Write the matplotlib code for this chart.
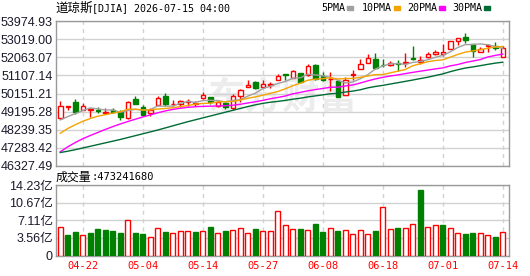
import numpy as np
import matplotlib.pyplot as plt
from matplotlib.patches import Rectangle

plt.rcParams['font.family'] = ['Liberation Sans', 'Noto Sans CJK SC', 'DejaVu Sans']

# ---------------------------------------------------------------- data
dates = ['04-17', '04-20', '04-21', '04-22', '04-23', '04-24', '04-27', '04-28', '04-29', '04-30',
         '05-01', '05-04', '05-05', '05-06', '05-07', '05-08', '05-11', '05-12', '05-13', '05-14',
         '05-15', '05-18', '05-19', '05-20', '05-21', '05-22', '05-26', '05-27', '05-28', '05-29',
         '06-01', '06-02', '06-03', '06-04', '06-05', '06-08', '06-09', '06-10', '06-11', '06-12',
         '06-15', '06-16', '06-17', '06-18', '06-22', '06-23', '06-24', '06-25', '06-26', '06-29',
         '06-30', '07-01', '07-02', '07-06', '07-07', '07-08', '07-09', '07-10', '07-13', '07-14']

opens = [48841, 49460, 49687, 49296, 49296, 49280, 49137, 49264, 49158, 48841,
         49862, 49439, 49106, 49529, 50036, 49581, 49581, 49719, 49597, 49899,
         49968, 49508, 49666, 49402, 50036, 50480, 50745, 50496, 50586, 50850,
         51168, 50956, 51236, 51104, 51675, 51051, 50909, 50787, 50057, 51131,
         51432, 51786, 51961, 51675, 51675, 51765, 51749, 52003, 51834, 52066,
         52214, 52257, 52490, 52902, 53124, 52770, 52347, 52652, 52664, 52098]
highs = [49756, 49497, 49862, 49650, 49386, 49439, 49370, 49370, 49280, 49756,
         50036, 49545, 49370, 50036, 50179, 49809, 49809, 49862, 49756, 50216,
         49978, 49756, 49677, 50110, 50390, 50850, 50813, 50850, 50776, 51199,
         51199, 51395, 51252, 51702, 51696, 51289, 51273, 50866, 51009, 51416,
         51961, 52236, 52267, 51961, 51887, 51924, 52278, 52664, 52146, 52320,
         52426, 52770, 52940, 53071, 53335, 52780, 52600, 52770, 52860, 52680]
lows = [48815, 49296, 49068, 49280, 48926, 49121, 49106, 49137, 48767, 48825,
        49581, 48979, 48979, 49518, 49508, 49492, 49455, 49508, 49508, 49862,
        49581, 49423, 49333, 49280, 49687, 50470, 50390, 50427, 50459, 50840,
        50866, 50946, 50723, 51093, 50866, 50797, 50269, 49967, 50047, 50877,
        51421, 51775, 51432, 51569, 51606, 51358, 51569, 51897, 51723, 52040,
        52162, 52136, 52479, 52690, 52822, 52093, 52336, 52331, 52436, 52093]
closes = [49492, 49476, 49190, 49476, 49317, 49227, 49190, 49174, 48926, 49687,
          49581, 49000, 49296, 49899, 49613, 49618, 49756, 49767, 49666, 50073,
          49687, 49698, 49423, 50020, 50322, 50602, 50459, 50639, 50644, 51078,
          51104, 51326, 50760, 51590, 50903, 50850, 50940, 49983, 50866, 51168,
          51696, 52014, 51485, 51649, 51781, 51723, 51834, 51976, 51913, 52241,
          52357, 52336, 52928, 53060, 53007, 52373, 52505, 52700, 52568, 52579]

# volume in units of 1e8 shares (亿)
volumes = [5.70, 4.13, 4.74, 4.06, 4.53, 5.27, 5.15, 4.95, 4.53, 7.15,
           4.53, 4.33, 3.84, 5.50, 4.74, 4.46, 4.88, 4.88, 4.74, 4.88,
           5.77, 4.46, 4.95, 5.08, 5.50, 4.46, 5.27, 4.88, 4.88, 9.00,
           6.12, 5.29, 5.29, 5.08, 6.39, 4.74, 5.50, 4.95, 5.08, 4.26,
           5.08, 4.26, 4.95, 9.83, 5.29, 5.50, 5.50, 6.32, 13.20, 5.70,
           6.12, 6.12, 5.50, 4.46, 4.33, 4.53, 4.46, 4.06, 3.84, 4.73]

ma5 = [48752, 48930, 49090, 49250, 49390, 49337, 49280, 49277, 49167, 49241,
       49312, 49274, 49298, 49493, 49478, 49485, 49636, 49731, 49684, 49776,
       49790, 49778, 49709, 49780, 49830, 50013, 50165, 50408, 50533, 50684,
       50785, 50958, 50982, 51172, 51137, 51086, 51009, 50853, 50708, 50761,
       50931, 51145, 51446, 51602, 51725, 51730, 51694, 51793, 51845, 51937,
       52064, 52165, 52355, 52584, 52738, 52741, 52775, 52729, 52631, 52545]
ma10 = [48050, 48300, 48500, 48680, 48830, 48950, 49030, 49110, 49190, 49316,
        49324, 49277, 49287, 49330, 49359, 49398, 49455, 49514, 49588, 49627,
        49638, 49707, 49720, 49732, 49803, 49901, 49972, 50059, 50157, 50257,
        50399, 50562, 50695, 50852, 50911, 50935, 50983, 50918, 50940, 50949,
        51008, 51077, 51150, 51155, 51243, 51331, 51420, 51619, 51724, 51831,
        51897, 51930, 52074, 52215, 52338, 52403, 52470, 52542, 52608, 52641]
ma20 = [47070, 47330, 47560, 47760, 47930, 48090, 48250, 48400, 48540, 48670,
        48790, 48910, 49020, 49130, 49230, 49310, 49370, 49420, 49450, 49471,
        49481, 49492, 49504, 49531, 49581, 49650, 49713, 49787, 49873, 49942,
        50018, 50135, 50208, 50292, 50357, 50418, 50478, 50488, 50548, 50603,
        50704, 50819, 50922, 51004, 51077, 51133, 51202, 51269, 51332, 51390,
        51453, 51503, 51612, 51685, 51790, 51867, 51945, 52081, 52166, 52236]
ma30 = [47030, 47100, 47180, 47270, 47360, 47450, 47540, 47630, 47720, 47820,
        47920, 48020, 48120, 48220, 48330, 48440, 48550, 48660, 48760, 48860,
        48960, 49060, 49160, 49260, 49360, 49460, 49550, 49630, 49690, 49733,
        49787, 49849, 49901, 49971, 50024, 50078, 50137, 50164, 50228, 50278,
        50348, 50449, 50522, 50580, 50652, 50722, 50792, 50865, 50940, 51012,
        51101, 51189, 51306, 51408, 51497, 51556, 51624, 51693, 51757, 51807]

ma_names = ['5PMA', '10PMA', '20PMA', '30PMA']
ma_colors = ['#a0a0a0', '#f5a300', '#ff00ff', '#006b35']

price_ticks = [46327.49, 47283.42, 48239.35, 49195.28, 50151.21,
               51107.14, 52063.07, 53019.00, 53974.93]
vol_ticks = [0, 3.56, 7.11, 10.67, 14.23]
vol_tick_labels = ['0', '3.56亿', '7.11亿', '10.67亿', '14.23亿']
date_ticks = ['04-22', '05-04', '05-14', '05-27', '06-08', '06-18', '07-01', '07-14']

index_name = '道琼斯'
index_code = '[DJIA] 2026-07-15 04:00'
last_volume = 473241680

RED = '#ff0000'
GREEN = '#008000'
GRID = '#d2d2d2'
FRAME = '#9a9a9a'
W, H = 530, 276


def fx(px):
    return px / W


def fy(py):
    return 1 - py / H


def style_axis(ax):
    for s in ax.spines.values():
        s.set_color(FRAME)
        s.set_linewidth(1.0)
    ax.tick_params(length=0)
    ax.set_xlim(-0.57, len(dates) - 0.17)


def draw_candles(ax, x, o, h, l, c):
    """Hollow red when close >= open, filled green otherwise."""
    for xi, oi, hi, li, ci in zip(x, o, h, l, c):
        col = RED if ci >= oi else GREEN
        face = 'white' if ci >= oi else GREEN
        ax.vlines(xi, li, hi, color=col, lw=1.0, zorder=3)
        ax.bar(xi, abs(ci - oi), bottom=min(oi, ci), width=0.6,
               facecolor=face, edgecolor=col, lw=1.0, zorder=4)


if __name__ == '__main__':
    x = np.arange(len(dates))
    tick_pos = [dates.index(d) for d in date_ticks]

    fig = plt.figure(figsize=(W / 100, H / 100), dpi=100)
    ax = fig.add_axes([fx(56), fy(165.8), fx(453), 144.6 / H])
    axv = fig.add_axes([fx(56), fy(255.5), fx(453), 70.3 / H])

    # price pane
    style_axis(ax)
    ax.set_ylim(price_ticks[0], price_ticks[-1])
    ax.set_yticks(price_ticks)
    ax.set_yticklabels(['%.2f' % t for t in price_ticks], fontsize=9, color='#1a1a2a')
    ax.tick_params(axis='y', pad=2.2)
    ax.set_xticks(tick_pos)
    ax.set_xticklabels([])
    ax.grid(axis='y', color=GRID, lw=1.0, zorder=0)
    for t in tick_pos:
        ax.axvline(t, color=GRID, lw=1.0, ls=(0, (3, 3)), zorder=0)

    ax.text(0.5, 0.47, '东方财富', transform=ax.transAxes, fontsize=27,
            fontweight='bold', color='#ececec', ha='center', va='center',
            family=['Noto Sans CJK SC'], zorder=1)

    draw_candles(ax, x, opens, highs, lows, closes)
    for ma, col in zip([ma5, ma10, ma20, ma30], ma_colors):
        ax.plot(x, ma, color=col, lw=1.0, zorder=5)

    # volume pane
    style_axis(axv)
    axv.set_ylim(0, vol_ticks[-1])
    axv.set_yticks(vol_ticks)
    axv.set_yticklabels(vol_tick_labels, fontsize=9, color='#1a1a2a')
    axv.tick_params(axis='y', pad=2.2)
    axv.set_xticks(tick_pos)
    axv.set_xticklabels(date_ticks, color=RED, fontsize=7.5, family=['DejaVu Sans Mono'])
    axv.tick_params(axis='x', pad=4)
    axv.grid(axis='y', color=GRID, lw=1.0, zorder=0)
    for t in tick_pos:
        axv.axvline(t, color=GRID, lw=1.0, ls=(0, (3, 3)), zorder=0)

    prev = [closes[0] - 1] + closes[:-1]
    for xi, v, c, p in zip(x, volumes, closes, prev):
        up = c >= p
        axv.bar(xi, v, width=0.62, facecolor='white' if up else GREEN,
                edgecolor=RED if up else GREEN, lw=1.0, zorder=3)

    # header texts
    fig.text(fx(55), fy(8), index_name, fontsize=9, family=['Noto Sans CJK SC'],
             va='center', ha='left')
    fig.text(fx(92), fy(8), index_code, fontsize=7.2, family=['DejaVu Sans Mono'],
             va='center', ha='left')
    legend_x = [321, 362, 407, 452]
    for lx, name, col in zip(legend_x, ma_names, ma_colors):
        t = fig.text(fx(lx), fy(8), name, fontsize=7.2, family=['DejaVu Sans Mono'],
                     va='center', ha='left')
        sx = lx + len(name) * 5.8 + 3
        fig.patches.append(Rectangle((fx(sx), fy(10)), fx(6), 3.5 / H,
                                     transform=fig.transFigure, color=col))

    fig.text(fx(56), fy(177), '成交量', fontsize=8.6, family=['Noto Sans CJK SC'],
             va='center', ha='left')
    fig.text(fx(92), fy(177), ':%d' % last_volume, fontsize=7.5,
             family=['DejaVu Sans Mono'], va='center', ha='left')

    fig.savefig('out.png', dpi=100)
